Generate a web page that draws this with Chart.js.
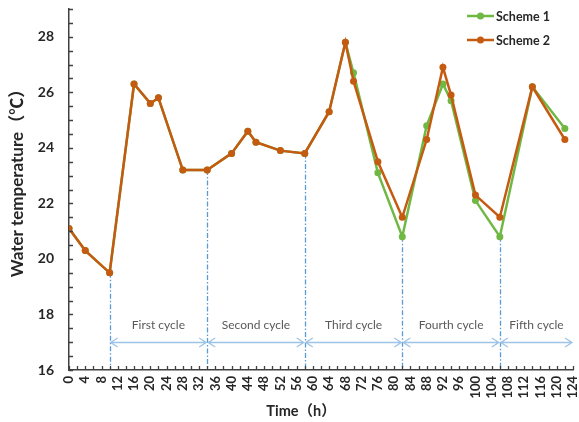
<!DOCTYPE html>
<html>
<head>
<meta charset="utf-8">
<script src="https://cdn.jsdelivr.net/npm/chart.js@4/dist/chart.umd.min.js"></script>
<style>
  html, body { margin: 0; padding: 0; background: #ffffff; }
  #wrap { width: 579px; height: 422px; position: relative; }
</style>
</head>
<body>
<div id="wrap"><canvas id="c" width="579" height="422"></canvas></div>
<script>
// Sampling times (h) shared by both schemes
const hours = [0, 4, 10, 16, 20, 22, 28, 34, 40, 44, 46, 52, 58, 64, 68, 70, 76, 82, 88, 92, 94, 100, 106, 114, 122];

// Water temperature (°C)
const scheme1 = [21.1, 20.3, 19.5, 26.3, 25.6, 25.8, 23.2, 23.2, 23.8, 24.6, 24.2, 23.9, 23.8, 25.3, 27.8,
                 26.7, 23.1, 20.8, 24.8, 26.3, 25.7, 22.1, 20.8, 26.2, 24.7];
const scheme2 = [21.1, 20.3, 19.5, 26.3, 25.6, 25.8, 23.2, 23.2, 23.8, 24.6, 24.2, 23.9, 23.8, 25.3, 27.8,
                 26.4, 23.5, 21.5, 24.3, 26.9, 25.9, 22.3, 21.5, 26.2, 24.3];

const seriesNames = ['Scheme 1', 'Scheme 2'];
const seriesColors = ['#70b844', '#c55a11'];

// Cycle boundaries (h) and their names
const cycleBounds = [10, 34, 58, 82, 106, 124];
const cycleNames = ['First cycle', 'Second cycle', 'Third cycle', 'Fourth cycle', 'Fifth cycle'];
const arrowLevel = 17;
const cycleLabelLevel = 17.6;

// Tick labels and axis titles
const yTickLabels = [16, 18, 20, 22, 24, 26, 28];
const xTickLabels = [0, 4, 8, 12, 16, 20, 24, 28, 32, 36, 40, 44, 48, 52, 56, 60,
                     64, 68, 72, 76, 80, 84, 88, 92, 96, 100, 104, 108, 112, 116, 120, 124];
const xTitle = 'Time（h）';
const yTitle = 'Water temperature（℃）';

const FONT = "Lato, 'Noto Sans CJK SC', sans-serif";
const AXIS_COLOR = '#404040';
const TEXT_COLOR = '#262626';

function toPoints(vals) {
  return hours.map((h, i) => ({ x: h, y: vals[i] }));
}

// Cycle markers: dash-dot verticals, double-headed arrows and cycle names
const cyclePlugin = {
  id: 'cycles',
  beforeDatasetsDraw(chart) {
    const ctx = chart.ctx;
    const xs = chart.scales.x, ys = chart.scales.y;
    ctx.save();
    // vertical dash-dot lines
    ctx.strokeStyle = '#5b9bd5';
    ctx.lineWidth = 1.3;
    ctx.setLineDash([5, 2, 1.5, 2]);
    cycleBounds.forEach(b => {
      const idx = hours.indexOf(b);
      if (idx < 0) return;
      const top = Math.min(scheme1[idx], scheme2[idx]);
      const px = Math.round(xs.getPixelForValue(b)) + 0.5;
      ctx.beginPath();
      ctx.moveTo(px, ys.getPixelForValue(top));
      ctx.lineTo(px, ys.getPixelForValue(ys.min));
      ctx.stroke();
    });
    ctx.setLineDash([]);
    // arrows
    ctx.strokeStyle = '#9dc3e6';
    ctx.lineWidth = 1.3;
    const ay = Math.round(ys.getPixelForValue(arrowLevel)) + 0.5;
    for (let i = 0; i < cycleNames.length; i++) {
      const pa = xs.getPixelForValue(cycleBounds[i]) + 1;
      const pb = xs.getPixelForValue(cycleBounds[i + 1]) - 1;
      ctx.beginPath();
      ctx.moveTo(pa, ay); ctx.lineTo(pb, ay);
      ctx.moveTo(pa + 7, ay - 4.5); ctx.lineTo(pa, ay); ctx.lineTo(pa + 7, ay + 4.5);
      ctx.moveTo(pb - 7, ay - 4.5); ctx.lineTo(pb, ay); ctx.lineTo(pb - 7, ay + 4.5);
      ctx.stroke();
    }
    // names
    ctx.fillStyle = '#595959';
    ctx.font = '12px ' + FONT;
    ctx.textAlign = 'center';
    ctx.textBaseline = 'middle';
    const ly = ys.getPixelForValue(cycleLabelLevel);
    for (let i = 0; i < cycleNames.length; i++) {
      const cx = (xs.getPixelForValue(cycleBounds[i]) + xs.getPixelForValue(cycleBounds[i + 1])) / 2;
      ctx.fillText(cycleNames[i], cx, ly);
    }
    ctx.restore();
  }
};

// Inward tick marks, rotated time labels, axis titles and the legend
const decorPlugin = {
  id: 'decor',
  afterDraw(chart) {
    const ctx = chart.ctx;
    const xs = chart.scales.x, ys = chart.scales.y;
    const area = chart.chartArea;
    ctx.save();
    ctx.strokeStyle = AXIS_COLOR;
    ctx.lineWidth = 1.3;
    ctx.beginPath();
    ys.ticks.forEach(t => {
      const py = Math.round(ys.getPixelForValue(t.value)) + 0.5;
      ctx.moveTo(area.left, py); ctx.lineTo(area.left + 4, py);
    });
    xs.ticks.forEach(t => {
      const px = Math.round(xs.getPixelForValue(t.value)) + 0.5;
      ctx.moveTo(px, area.bottom); ctx.lineTo(px, area.bottom - 4);
    });
    ctx.stroke();

    // time labels, reading bottom to top
    ctx.fillStyle = TEXT_COLOR;
    ctx.font = 'bold 13px ' + FONT;
    ctx.textAlign = 'right';
    ctx.textBaseline = 'middle';
    xTickLabels.forEach(v => {
      const px = xs.getPixelForValue(v);
      ctx.save();
      ctx.translate(px, area.bottom + 6);
      ctx.rotate(-Math.PI / 2);
      ctx.fillText(String(v), 0, 0);
      ctx.restore();
    });

    // axis titles
    ctx.textAlign = 'center';
    ctx.textBaseline = 'middle';
    ctx.font = 'bold 14.5px ' + FONT;
    ctx.fillText(xTitle, 301, 411);
    ctx.save();
    ctx.translate(18, 179);
    ctx.rotate(-Math.PI / 2);
    ctx.font = 'bold 17px ' + FONT;
    ctx.fillText(yTitle, 0, 0);
    ctx.restore();

    // legend
    const lx = 467, lw = 27, rowY = [16, 40];
    chart.data.datasets.forEach((ds, i) => {
      const y = rowY[i];
      ctx.strokeStyle = ds.borderColor;
      ctx.lineWidth = 2.5;
      ctx.beginPath();
      ctx.moveTo(lx, y); ctx.lineTo(lx + lw, y);
      ctx.stroke();
      ctx.fillStyle = ds.borderColor;
      ctx.beginPath();
      ctx.arc(lx + lw / 2, y, 3.5, 0, Math.PI * 2);
      ctx.fill();
      ctx.fillStyle = TEXT_COLOR;
      ctx.font = 'bold 12.5px ' + FONT;
      ctx.textAlign = 'left';
      ctx.textBaseline = 'middle';
      ctx.fillText(ds.label, lx + lw + 2, y + 1);
    });
    ctx.restore();
  }
};

const datasets = [scheme1, scheme2].map((vals, i) => ({
  label: seriesNames[i],
  data: toPoints(vals),
  borderColor: seriesColors[i],
  backgroundColor: seriesColors[i],
  pointBackgroundColor: seriesColors[i],
  pointBorderColor: seriesColors[i],
  borderWidth: 2.5,
  pointRadius: 3.5,
  pointBorderWidth: 0,
  tension: 0,
  order: i === 0 ? 2 : 1
}));

new Chart(document.getElementById('c'), {
  type: 'line',
  data: { datasets },
  plugins: [cyclePlugin, decorPlugin],
  options: {
    responsive: false,
    animation: false,
    devicePixelRatio: 1,
    layout: { padding: { top: 9, right: 6, left: 0, bottom: 0 } },
    plugins: { legend: { display: false }, tooltip: { enabled: false } },
    scales: {
      x: {
        type: 'linear',
        min: 0,
        max: 124,
        ticks: { display: false, stepSize: 2 },
        grid: { display: false, drawTicks: false },
        border: { display: true, color: AXIS_COLOR, width: 1.5 },
        title: { display: false },
        afterFit(scale) { scale.height = 52; scale.paddingLeft = 0; scale.paddingRight = 0; }
      },
      y: {
        type: 'linear',
        min: 16,
        max: 29,
        ticks: {
          stepSize: 0.5,
          autoSkip: false,
          padding: 15,
          color: TEXT_COLOR,
          font: { family: FONT, size: 14, weight: 'bold' },
          callback: v => (yTickLabels.includes(v) ? String(v) : '')
        },
        grid: { display: false, drawTicks: false },
        border: { display: true, color: AXIS_COLOR, width: 1.5 },
        title: { display: false },
        afterFit(scale) { scale.width = 69; scale.paddingTop = 0; scale.paddingBottom = 0; }
      }
    }
  }
});
</script>
</body>
</html>
